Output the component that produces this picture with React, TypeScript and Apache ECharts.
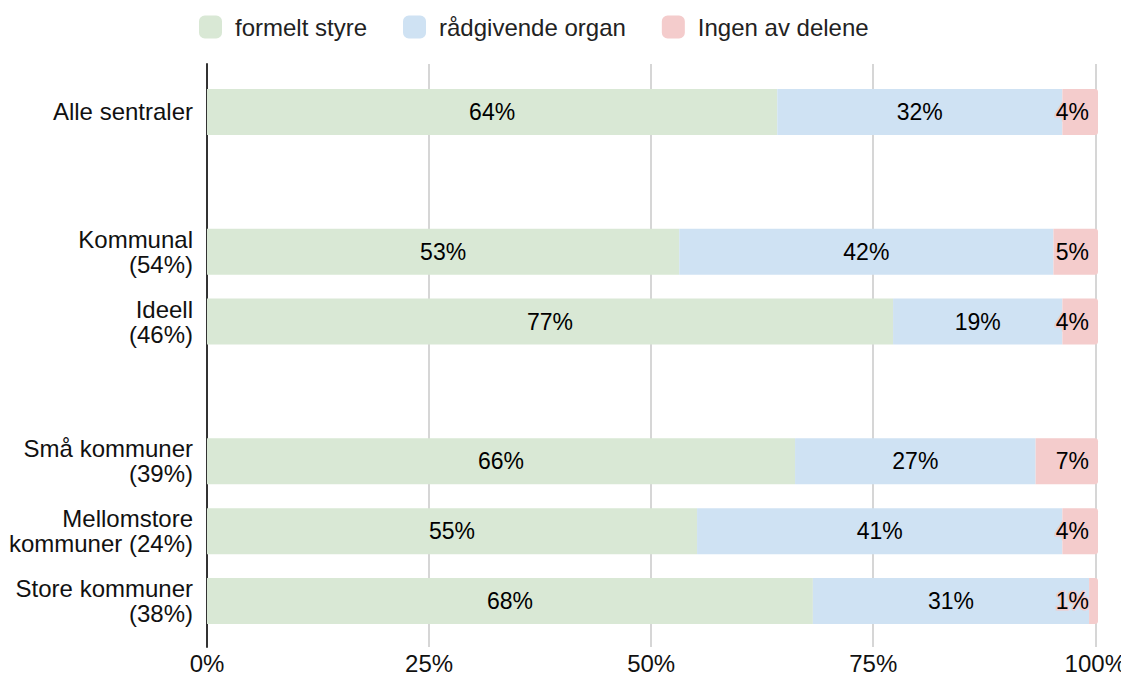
import React, { useEffect, useRef } from "react";
import * as echarts from "echarts";

const categories = [
  "Alle sentraler",
  "",
  "Kommunal\n(54%)",
  "Ideell\n(46%)",
  " ",
  "Små kommuner\n(39%)",
  "Mellomstore\nkommuner (24%)",
  "Store kommuner\n(38%)",
];
const formeltStyre = [64, null, 53, 77, null, 66, 55, 68];
const raadgivendeOrgan = [32, null, 42, 19, null, 27, 41, 31];
const ingenAvDelene = [4, null, 5, 4, null, 7, 4, 1];
const seriesNames = ["formelt styre", "rådgivende organ", "Ingen av delene"];
const colors = ["#d9e8d5", "#cfe2f3", "#f4cccc"];
const xTicks = [0, 25, 50, 75, 100];

const FONT = "'Liberation Sans', Arial, sans-serif";

export default function App() {
  const ref = useRef<HTMLDivElement>(null);
  useEffect(() => {
    if (!ref.current) return;
    const chart = echarts.init(ref.current, null, { renderer: "svg" });
    const values = [formeltStyre, raadgivendeOrgan, ingenAvDelene];
    const series: any[] = values.map((arr, i) => ({
      name: seriesNames[i],
      type: "bar",
      stack: "total",
      xAxisIndex: 0,
      yAxisIndex: 0,
      barWidth: 46,
      data: arr,
      itemStyle: {
        color: colors[i],
        borderRadius: i === 2 ? [0, 3, 3, 0] : 0,
      },
      label: {
        show: true,
        position: i === 2 ? "insideRight" : "inside",
        distance: 9,
        formatter: (p: any) => (p.value == null ? "" : p.value + "%"),
        color: "#000",
        fontSize: 23,
        fontFamily: FONT,
        textBorderColor: colors[i],
        textBorderWidth: 3,
      },
      emphasis: { disabled: true },
    }));
    chart.setOption({
      animation: false,
      color: colors,
      legend: {
        top: 10,
        left: 194,
        itemWidth: 23,
        itemHeight: 23,
        itemGap: 36,
        icon: "roundRect",
        textStyle: { fontSize: 24, fontFamily: FONT, color: "#222", padding: [0, 0, 0, 8] },
        data: seriesNames,
      },
      grid: [
        { left: 207, right: 31, top: 77, bottom: 44 },
        { left: 207, right: 31, top: 64, bottom: 33 },
      ],
      xAxis: [
        {
          gridIndex: 0,
          type: "value",
          min: 0,
          max: 100,
          show: false,
        },
        {
          gridIndex: 1,
          type: "value",
          min: 0,
          max: 100,
          interval: 25,
          axisLine: { show: false },
          axisTick: { show: false },
          splitLine: { show: true, lineStyle: { color: "#c8c8c8", width: 1.5 } },
          axisLabel: {
            formatter: (v: number) => (xTicks.includes(v) ? v + "%" : ""),
            fontSize: 24,
            fontFamily: FONT,
            color: "#111",
            margin: 4,
          },
        },
      ],
      yAxis: [
        {
          gridIndex: 0,
          type: "category",
          data: categories,
          inverse: true,
          axisLine: { show: false },
          axisTick: { show: false },
          axisLabel: {
            fontSize: 24,
            lineHeight: 25,
            fontFamily: FONT,
            color: "#111",
            margin: 14,
            align: "right",
          },
        },
        {
          gridIndex: 1,
          type: "value",
          min: 0,
          max: 1,
          axisLine: { show: true, lineStyle: { color: "#333", width: 2 } },
          axisTick: { show: false },
          axisLabel: { show: false },
          splitLine: { show: false },
        },
      ],
      series: [
        {
          type: "line",
          xAxisIndex: 1,
          yAxisIndex: 1,
          data: [],
          silent: true,
        },
        ...series,
      ],
    });
    return () => chart.dispose();
  }, []);
  return <div ref={ref} style={{ width: 1129, height: 680, margin: -8 }} />;
}
